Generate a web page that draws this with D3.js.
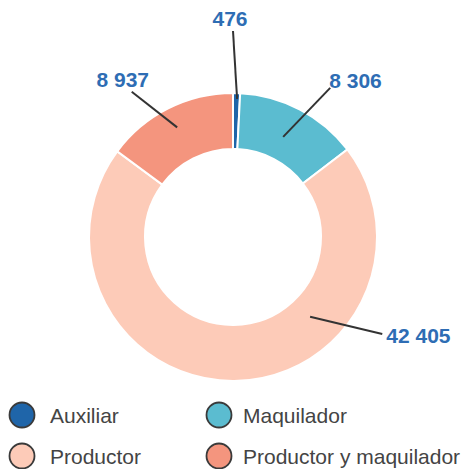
<!DOCTYPE html>
<html>
<head>
<meta charset="utf-8">
<script src="https://cdn.jsdelivr.net/npm/d3@7"></script>
<style>
  body { margin: 0; background: #fff; }
  text { font-family: "Liberation Sans", Arial, sans-serif; }
</style>
</head>
<body>
<script>
var categories = ["Auxiliar", "Maquilador", "Productor", "Productor y maquilador"];
var values = [476, 8306, 42405, 8937];
var labels = ["476", "8 306", "42 405", "8 937"];
var colors = ["#1f65a9", "#5bbcd0", "#fdcbb8", "#f4957e"];

// where each leader line sits (degrees from top, radius) - inner end / outer end
var leaders = [
    {a1: 1.7, r1: 138, a2: 0, r2: 206, anchor: "middle", dx: -3, dy: -5},
    {a1: 26.6, r1: 112, a2: 33.1, r2: 178, anchor: "start", dx: -1, dy: 0},
    {a1: 136, r1: 111, a2: 123, r2: 178, anchor: "start", dx: 4, dy: 9},
    {a1: -27, r1: 123, a2: -34.9, r2: 177, anchor: "middle", dx: -9, dy: -5}
];

var W = 462, H = 469;
var cx = 233, cy = 237, outerR = 144, innerR = 88;

var svg = d3.select("body").append("svg")
    .attr("width", W)
    .attr("height", H);

var data = categories.map(function(c, i) {
    return {name: c, value: values[i], label: labels[i], color: colors[i], lead: leaders[i]};
});

var pie = d3.pie().sort(null).value(function(d) { return d.value; });
var arc = d3.arc().innerRadius(innerR).outerRadius(outerR);

var g = svg.append("g").attr("transform", "translate(" + cx + "," + cy + ")");

g.selectAll("path.slice")
    .data(pie(data))
    .enter()
    .append("path")
    .attr("class", "slice")
    .attr("d", arc)
    .attr("fill", function(d) { return d.data.color; })
    .attr("stroke", "#fff")
    .attr("stroke-width", 2);

function polar(a, r) {
    var rad = a * Math.PI / 180;
    return [r * Math.sin(rad), -r * Math.cos(rad)];
}

var lab = g.selectAll("g.lab")
    .data(data)
    .enter()
    .append("g")
    .attr("class", "lab");

lab.append("line")
    .attr("x1", function(d) { return polar(d.lead.a1, d.lead.r1)[0]; })
    .attr("y1", function(d) { return polar(d.lead.a1, d.lead.r1)[1]; })
    .attr("x2", function(d) { return polar(d.lead.a2, d.lead.r2)[0]; })
    .attr("y2", function(d) { return polar(d.lead.a2, d.lead.r2)[1]; })
    .attr("stroke", "#333")
    .attr("stroke-width", 2);

lab.append("text")
    .attr("x", function(d) { return polar(d.lead.a2, d.lead.r2)[0] + d.lead.dx; })
    .attr("y", function(d) { return polar(d.lead.a2, d.lead.r2)[1] + d.lead.dy; })
    .attr("text-anchor", function(d) { return d.lead.anchor; })
    .attr("font-size", "21px")
    .attr("font-weight", "bold")
    .attr("fill", "#2e6db4")
    .text(function(d) { return d.label; });

// legend, 2 columns
var colX = [22, 219], colText = [28, 24], rowY = [415, 456];

var legend = svg.selectAll("g.leg")
    .data(data)
    .enter()
    .append("g")
    .attr("class", "leg")
    .attr("transform", function(d, i) {
        return "translate(" + colX[i % 2] + "," + rowY[Math.floor(i / 2)] + ")";
    });

legend.append("circle")
    .attr("r", 12.5)
    .attr("fill", function(d) { return d.color; })
    .attr("stroke", "#3a3a3a")
    .attr("stroke-width", 1.8);

legend.append("text")
    .attr("x", function(d, i) { return colText[i % 2]; })
    .attr("y", 7.5)
    .attr("font-size", "21px")
    .attr("fill", "#444")
    .text(function(d) { return d.name; });
</script>
</body>
</html>
